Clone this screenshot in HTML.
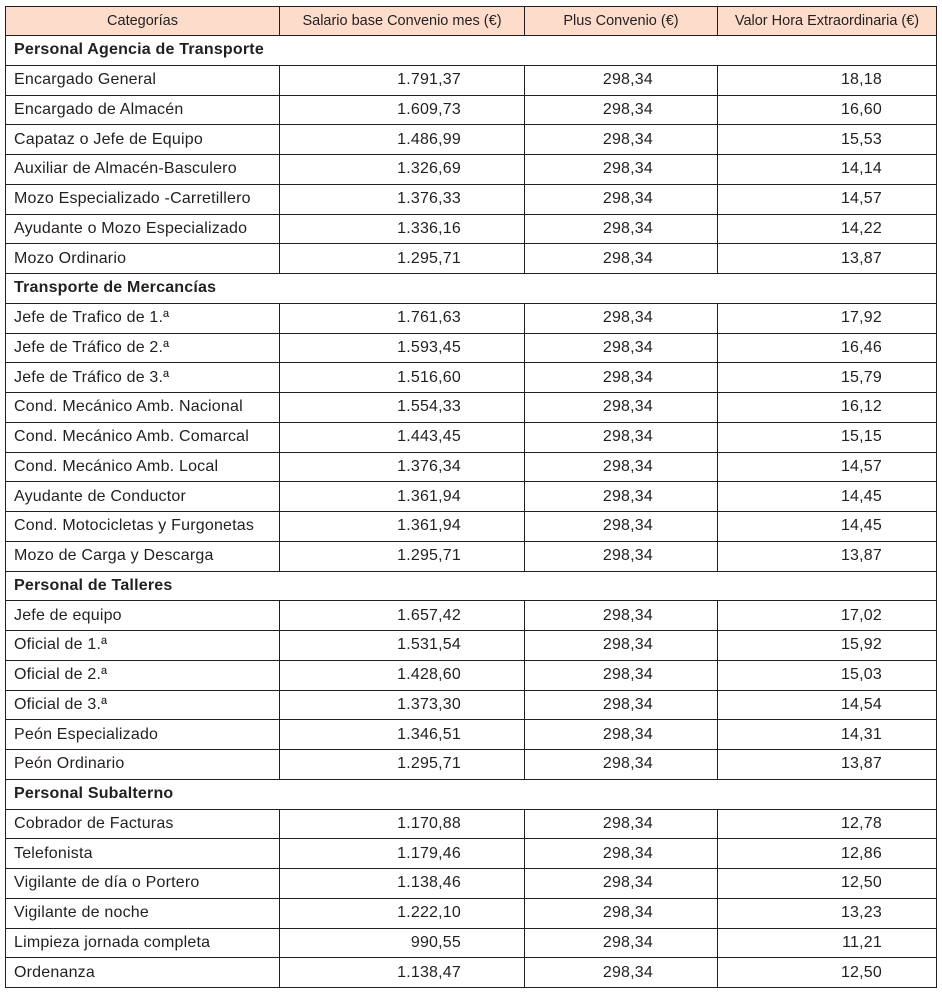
<!DOCTYPE html>
<html><head><meta charset="utf-8"><style>
body{margin:0;background:#fff;width:942px;height:997px;overflow:hidden}
table{position:absolute;left:5px;top:6px;border-collapse:collapse;font-family:"Liberation Sans",Arial,sans-serif;font-size:16px;letter-spacing:0.2px;color:#231f20;table-layout:fixed}
td,th{border:1.3px solid #231f20;padding:0;white-space:nowrap;line-height:18px}
th{background:#fddccc;font-weight:normal;font-size:14.5px;letter-spacing:0;height:28px;text-align:center}
td{height:28.75px;vertical-align:middle}
td.c{padding-left:8px}
td.a{text-align:right;padding-right:63px}
td.b{text-align:right;padding-right:64px}
td.d{text-align:right;padding-right:54px}
tr.s td{font-weight:bold;padding-left:8px;border-left:1.3px solid #231f20;border-right:1.3px solid #231f20}
</style></head><body>
<table>
<colgroup><col style="width:274px"><col style="width:245px"><col style="width:193px"><col style="width:219px"></colgroup>
<tr><th>Categorías</th><th>Salario base Convenio mes (€)</th><th>Plus Convenio (€)</th><th>Valor Hora Extraordinaria (€)</th></tr>
<tr class="s"><td colspan="4">Personal Agencia de Transporte</td></tr>
<tr><td class="c">Encargado General</td><td class="a">1.791,37</td><td class="b">298,34</td><td class="d">18,18</td></tr>
<tr><td class="c">Encargado de Almacén</td><td class="a">1.609,73</td><td class="b">298,34</td><td class="d">16,60</td></tr>
<tr><td class="c">Capataz o Jefe de Equipo</td><td class="a">1.486,99</td><td class="b">298,34</td><td class="d">15,53</td></tr>
<tr><td class="c">Auxiliar de Almacén-Basculero</td><td class="a">1.326,69</td><td class="b">298,34</td><td class="d">14,14</td></tr>
<tr><td class="c">Mozo Especializado -Carretillero</td><td class="a">1.376,33</td><td class="b">298,34</td><td class="d">14,57</td></tr>
<tr><td class="c">Ayudante o Mozo Especializado</td><td class="a">1.336,16</td><td class="b">298,34</td><td class="d">14,22</td></tr>
<tr><td class="c">Mozo Ordinario</td><td class="a">1.295,71</td><td class="b">298,34</td><td class="d">13,87</td></tr>
<tr class="s"><td colspan="4">Transporte de Mercancías</td></tr>
<tr><td class="c">Jefe de Trafico de 1.ª</td><td class="a">1.761,63</td><td class="b">298,34</td><td class="d">17,92</td></tr>
<tr><td class="c">Jefe de Tráfico de 2.ª</td><td class="a">1.593,45</td><td class="b">298,34</td><td class="d">16,46</td></tr>
<tr><td class="c">Jefe de Tráfico de 3.ª</td><td class="a">1.516,60</td><td class="b">298,34</td><td class="d">15,79</td></tr>
<tr><td class="c">Cond. Mecánico Amb. Nacional</td><td class="a">1.554,33</td><td class="b">298,34</td><td class="d">16,12</td></tr>
<tr><td class="c">Cond. Mecánico Amb. Comarcal</td><td class="a">1.443,45</td><td class="b">298,34</td><td class="d">15,15</td></tr>
<tr><td class="c">Cond. Mecánico Amb. Local</td><td class="a">1.376,34</td><td class="b">298,34</td><td class="d">14,57</td></tr>
<tr><td class="c">Ayudante de Conductor</td><td class="a">1.361,94</td><td class="b">298,34</td><td class="d">14,45</td></tr>
<tr><td class="c">Cond. Motocicletas y Furgonetas</td><td class="a">1.361,94</td><td class="b">298,34</td><td class="d">14,45</td></tr>
<tr><td class="c">Mozo de Carga y Descarga</td><td class="a">1.295,71</td><td class="b">298,34</td><td class="d">13,87</td></tr>
<tr class="s"><td colspan="4">Personal de Talleres</td></tr>
<tr><td class="c">Jefe de equipo</td><td class="a">1.657,42</td><td class="b">298,34</td><td class="d">17,02</td></tr>
<tr><td class="c">Oficial de 1.ª</td><td class="a">1.531,54</td><td class="b">298,34</td><td class="d">15,92</td></tr>
<tr><td class="c">Oficial de 2.ª</td><td class="a">1.428,60</td><td class="b">298,34</td><td class="d">15,03</td></tr>
<tr><td class="c">Oficial de 3.ª</td><td class="a">1.373,30</td><td class="b">298,34</td><td class="d">14,54</td></tr>
<tr><td class="c">Peón Especializado</td><td class="a">1.346,51</td><td class="b">298,34</td><td class="d">14,31</td></tr>
<tr><td class="c">Peón Ordinario</td><td class="a">1.295,71</td><td class="b">298,34</td><td class="d">13,87</td></tr>
<tr class="s"><td colspan="4">Personal Subalterno</td></tr>
<tr><td class="c">Cobrador de Facturas</td><td class="a">1.170,88</td><td class="b">298,34</td><td class="d">12,78</td></tr>
<tr><td class="c">Telefonista</td><td class="a">1.179,46</td><td class="b">298,34</td><td class="d">12,86</td></tr>
<tr><td class="c">Vigilante de día o Portero</td><td class="a">1.138,46</td><td class="b">298,34</td><td class="d">12,50</td></tr>
<tr><td class="c">Vigilante de noche</td><td class="a">1.222,10</td><td class="b">298,34</td><td class="d">13,23</td></tr>
<tr><td class="c">Limpieza jornada completa</td><td class="a">990,55</td><td class="b">298,34</td><td class="d">11,21</td></tr>
<tr><td class="c">Ordenanza</td><td class="a">1.138,47</td><td class="b">298,34</td><td class="d">12,50</td></tr>
</table>
</body></html>
